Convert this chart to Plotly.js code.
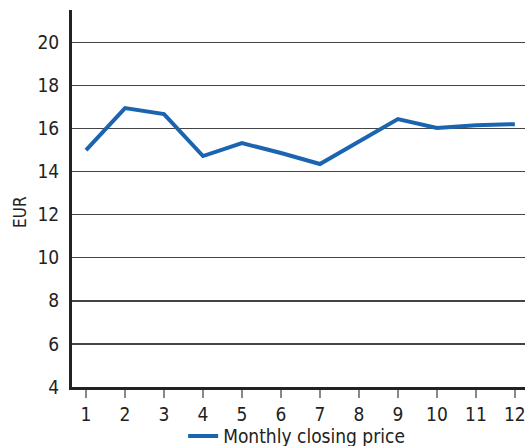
<!DOCTYPE html>
<html>
<head>
<meta charset="utf-8">
<script src="https://cdn.plot.ly/plotly-3.0.1.min.js"></script>
<style>html,body{margin:0;padding:0;background:#fff;}#chart{width:525px;height:446px;}</style>
</head>
<body>
<div id="chart"></div>
<script>
var months = [1, 2, 3, 4, 5, 6, 7, 8, 9, 10, 11, 12];
var closingPrice = [15.0, 16.95, 16.67, 14.72, 15.32, 14.86, 14.35, 15.4, 16.44, 16.02, 16.15, 16.2];
var seriesName = "Monthly closing price";
var yTicks = [4, 6, 8, 10, 12, 14, 16, 18, 20];
var yTitle = "EUR";

var font = "'Liberation Sans Narrow', 'DejaVu Sans Condensed', 'Open Sans', sans-serif";
var trace = {
  x: months, y: closingPrice, type: "scatter", mode: "lines", name: seriesName,
  line: {color: "#1a64b0", width: 4, shape: "linear"}
};
var layout = {
  width: 525, height: 446,
  margin: {l: 72, r: 0, t: 10, b: 59},
  paper_bgcolor: "#fff", plot_bgcolor: "#fff",
  font: {family: font, size: 19, color: "#222"},
  showlegend: true,
  legend: {orientation: "h", x: 0.565, xref: "container", xanchor: "center", y: 0.022, yref: "container", yanchor: "middle",
           bgcolor: "rgba(0,0,0,0)", font: {family: font, size: 19, color: "#222"}, itemwidth: 30},
  xaxis: {
    range: [0.64, 12.26], tickvals: months, ticktext: months.map(String),
    showgrid: false, zeroline: false, automargin: false, ticklabeloverflow: "allow",
    showline: true, linecolor: "#222", linewidth: 3,
    ticks: "outside", ticklen: 8, tickwidth: 1.5, tickcolor: "#888",
    tickfont: {family: font, size: 19, color: "#222"}
  },
  yaxis: {
    range: [4, 21.5], tickvals: yTicks, ticktext: yTicks.map(String),
    showgrid: true, gridcolor: "#444", gridwidth: 1.5, zeroline: false, automargin: false,
    showline: true, linecolor: "#222", linewidth: 3,
    ticks: "", ticklabelstandoff: 6,
    tickfont: {family: font, size: 19, color: "#222"}
  },
  annotations: [{
    text: yTitle, xref: "paper", yref: "paper", x: -0.115, y: 0.464,
    xanchor: "center", yanchor: "middle", textangle: -90, showarrow: false,
    font: {family: font, size: 17, color: "#222"}
  }]
};
Plotly.newPlot("chart", [trace], layout, {displayModeBar: false, staticPlot: true});
</script>
</body>
</html>
